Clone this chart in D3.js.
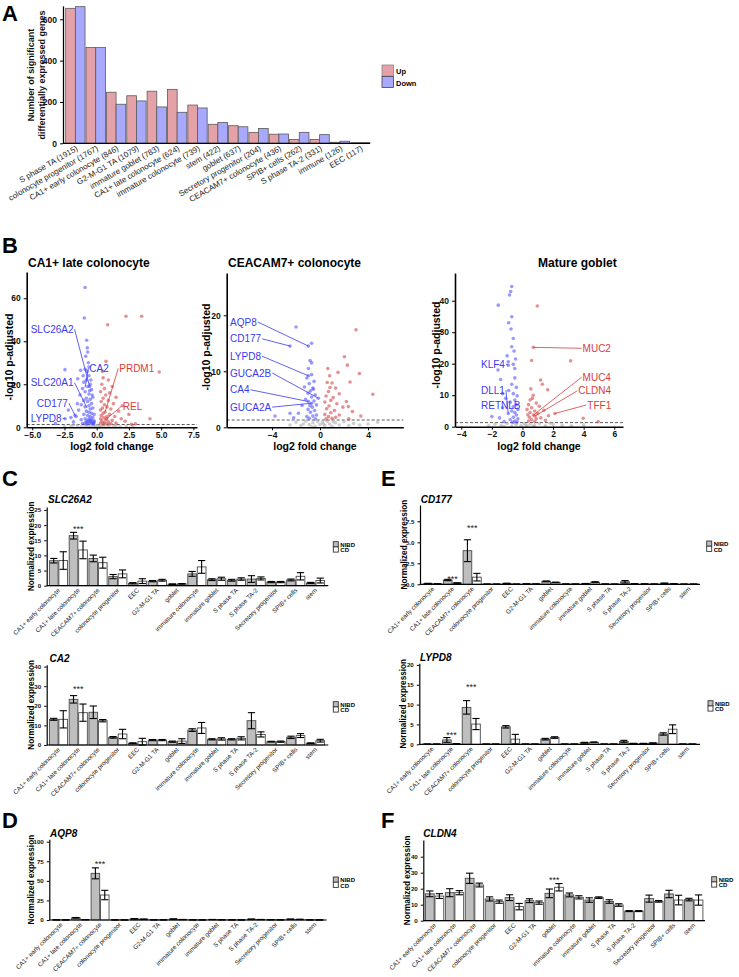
<!DOCTYPE html>
<html><head><meta charset="utf-8">
<script src="https://cdn.jsdelivr.net/npm/d3@7"></script>
<style>
body{margin:0;background:#fff}
svg{display:block}
text{font-family:"Liberation Sans",Arial,Helvetica,sans-serif}
</style>
</head><body>
<svg id="fig" width="739" height="977"></svg>
<script>
// ================= DATA =================
// Panel A
const degCellTypes = ["S phase TA (1915)","colonocyte progenitor (1767)","CA1+ early colonocyte (846)","G2-M-G1 TA (1079)","immature goblet (783)","CA1+ late colonocyte (624)","immature colonocyte (739)","stem (422)","goblet (637)","Secretory progenitor (204)","CEACAM7+ colonocyte (436)","SPIB+ cells (262)","S phase TA-2 (331)","immune (126)","EEC (117)"];
const degUp   = [653,463,247,230,252,261,185,92,85,53,44,19,19,5,3];
const degDown = [661,463,189,205,176,150,171,101,80,72,45,53,42,10,3];
const degYTicks = [0,200,400,600];

// Panel B volcano data: [log2 fold change, -log10 p-adjusted]
const v1Blue = [[-0.9,65],[-0.96,50.8],[-0.78,40.5],[-0.73,37],[-0.7,35],[-0.85,33],[-2.46,26.8],[-1.24,26.5],[-0.9,27],[-0.6,28],[-1.47,22.6],[-0.6,24],[-0.8,22],[-1.0,21],[-0.5,20],[-0.7,19],[-1.1,18],[-0.4,17.5],[-0.9,16.5],[-0.6,15.5],[-1.3,15],[-0.3,14],[-0.8,13.5],[-0.5,13],[-1.0,12.5],[-0.7,12],[-0.4,11],[-1.2,10.5],[-0.6,10],[-0.9,9.5],[-0.3,9],[-0.5,8.5],[-2.2,8],[-1.4,8],[-0.8,7.5],[-0.6,7],[-0.4,6.5],[-1.0,6],[-0.2,6],[-0.7,5.5],[-0.5,5],[-1.6,5],[-0.3,4.5],[-0.9,4],[-0.6,4],[-0.4,3.5],[-1.2,3.5],[-0.2,3],[-0.7,3],[-0.5,2.5],[-1.8,2.5],[-0.3,2.2],[-0.9,2],[-0.6,2],[-0.4,1.8],[-1.1,1.8],[-0.25,1.6],[-0.75,1.6],[-3.2,1.8],[-2.0,4.5],[-1.5,11],[-0.45,22],[-0.35,15],[-0.55,17],[-0.65,30],[-0.75,26],[-1.05,24],[-0.5,3.2],[-0.8,2.8],[-0.2,2.4],[-0.55,19],[-1.68,5.6],[-2.45,4]];
const v1Red = [[2.27,51.6],[3.49,51.6],[0.85,47.7],[0.72,30.7],[4.85,25.7],[0.5,23],[0.9,22],[0.4,20],[1.2,19],[0.6,18],[0.3,16.5],[1.0,16],[0.7,15],[1.5,14],[0.5,13.5],[0.9,12.5],[0.35,12],[1.3,11],[0.6,10.5],[2.0,10],[0.8,9.5],[0.45,9],[1.1,8.5],[0.3,8],[1.7,7.5],[0.65,7.1],[0.5,6.5],[2.5,6],[1.0,6],[0.35,5.5],[0.8,5],[1.4,5],[0.55,4.5],[0.3,4],[1.9,4],[4.13,4],[0.78,4],[0.7,3.5],[1.2,3.2],[0.4,3],[2.2,2.8],[0.9,2.5],[0.6,2.2],[0.3,2],[1.5,2],[3.0,1.6],[0.5,1.7],[0.8,1.5],[2.7,1.4],[1.1,1.8],[0.45,26]];
const v1Grey = [[-2.5,0.3],[-2,0.5],[-1.5,0.8],[-1.2,0.2],[-0.8,1.0],[-0.5,0.4],[-0.3,1.1],[-0.1,0.6],[0.1,0.9],[0.3,0.3],[0.6,1.0],[0.9,0.5],[1.3,0.7],[1.8,0.2],[2.3,0.4],[2.8,0.6],[-1.8,1.1],[-0.6,0.1],[0.2,0.2],[1.0,1.2],[-0.9,0.3],[0.5,0.6],[-0.2,0.2],[1.5,1.0]];
const v1Genes = [
  {gene:"SLC26A2", pt:[-0.55,19], txt:[-5.12,45.6], attach:"end", up:false},
  {gene:"CA2",     pt:[-0.9,18.5], txt:[-0.57,27.4], attach:"start", up:false},
  {gene:"SLC20A1", pt:[-0.75,9],  txt:[-5.12,20.7], attach:"end", up:false},
  {gene:"CD177",   pt:[-1.68,5.6], txt:[-4.65,11.2], attach:"end", up:false},
  {gene:"LYPD8",   pt:[-2.45,4],  txt:[-5.12,4.2], attach:"end", up:false},
  {gene:"PRDM1",   pt:[0.65,7.1], txt:[1.75,27.4], attach:"start", up:true},
  {gene:"REL",     pt:[0.78,4],   txt:[2.02,9.9], attach:"start", up:true}
];

const v2Blue = [[-2,17.9],[-0.7,15],[-2.5,14.5],[-0.97,14.5],[-0.83,11.9],[-0.7,11.5],[-0.97,10.5],[-0.7,9.4],[-0.97,9.2],[-1.1,8.8],[-0.5,8.2],[-0.9,7.8],[-1.3,7.2],[-0.6,7],[-0.8,6.5],[-1.0,6.1],[-0.4,5.8],[-0.7,5.4],[-0.14,5.2],[-1.2,5],[-0.5,4.7],[-0.97,4.6],[-0.7,4.3],[-0.3,4],[-1.5,3.9],[-0.65,3.6],[-1.0,3.2],[-0.45,3],[-0.8,2.7],[-1.8,2.5],[-2.5,2.5],[-3.75,2],[-0.3,2.2],[-0.6,2],[-1.1,1.9],[-0.9,1.6],[-2.2,1.7],[-0.4,1.5],[-0.55,6.8],[-0.85,3.9]];
const v2Red = [[3,17.4],[2.03,12.6],[2.28,11.1],[3.28,9.6],[2.5,8.1],[0.83,7.1],[4.4,5.9],[0.6,8],[1.0,7.9],[1.3,7],[0.7,6.4],[1.6,6],[0.5,5.6],[1.1,5.3],[0.9,4.8],[2.2,4.6],[0.4,4.5],[1.4,4.2],[0.75,3.8],[1.9,3.6],[0.55,3.3],[1.2,3.0],[2.7,2.8],[0.9,2.6],[0.4,2.3],[1.6,2.2],[3.4,2.0],[0.7,1.9],[1.0,1.6],[2.4,1.5],[0.5,1.5],[1.3,1.8],[0.8,9.2],[1.5,9.8],[0.65,10.5],[2.36,3.7]];
const v2Grey = [[-2.5,0.4],[-2,0.9],[-1.6,0.3],[-1.2,1.1],[-0.9,0.5],[-0.6,0.8],[-0.4,0.2],[-0.2,1.0],[0,0.5],[0.2,0.9],[0.4,0.3],[0.6,1.1],[0.8,0.6],[1.0,0.2],[1.3,0.8],[1.6,0.4],[2.0,1.0],[2.4,0.3],[2.8,0.7],[3.3,0.4],[4.0,0.6],[4.8,0.9],[-1.4,0.6],[0.3,0.6],[-0.7,0.1],[1.1,1.0]];
const v2Genes = [
  {gene:"AQP8",   pt:[-0.97,14.5], txt:[-7.5,18.8], attach:"end", up:false},
  {gene:"CD177",  pt:[-2.5,14.5],  txt:[-7.5,15.8], attach:"end", up:false},
  {gene:"LYPD8",  pt:[-0.97,9.2],  txt:[-7.5,12.7], attach:"end", up:false},
  {gene:"GUCA2B", pt:[-0.14,5.2],  txt:[-7.5,9.7], attach:"end", up:false},
  {gene:"CA4",    pt:[-0.97,4.6],  txt:[-7.5,6.7], attach:"end", up:false},
  {gene:"GUCA2A", pt:[-0.7,4.3],   txt:[-7.5,3.6], attach:"end", up:false}
];

const v3Blue = [[-0.77,42.9],[-0.85,41.8],[-0.7,44.5],[-1.58,38.6],[-0.7,34.9],[-0.9,33],[-0.75,31],[-0.6,28],[-0.7,25.4],[-0.55,24],[-0.93,20.6],[-0.93,19.5],[-0.6,19.8],[-0.5,18.5],[-1.43,15],[-0.5,15.5],[-0.7,13.5],[-0.4,12.5],[-0.9,11.5],[-0.6,10.5],[-0.35,9.8],[-1.1,9],[-0.5,8.5],[-0.8,7.8],[-0.4,7],[-0.6,6.3],[-1.3,6],[-0.3,5.5],[-0.7,5],[-0.5,4.5],[-2.0,3.2],[-0.93,4.2],[-0.4,3.7],[-0.6,3],[-1.5,2.8],[-0.3,2.5],[-0.8,2.2],[-0.5,1.8],[-1.2,1.6],[-0.35,1.5],[-0.65,1.4],[-1.6,18],[-1.0,22.5],[-1.3,10.5],[-0.45,21.5]];
const v3Red = [[0.97,38.3],[0.71,25.2],[0.6,21],[3.15,20.9],[1.19,14.8],[1.3,13.5],[1.65,11.7],[0.5,8.5],[0.7,10],[0.4,7],[0.9,7.5],[0.6,6],[1.1,6.5],[0.3,5.5],[0.8,5],[1.4,5.2],[0.5,4.5],[1.0,4.2],[0.35,3.8],[0.71,3.7],[1.7,3.5],[0.45,3],[0.82,3.4],[1.2,2.8],[0.9,2.5],[3.97,2.7],[4.95,1.6],[2.12,4.2],[0.6,2.2],[0.4,1.8],[1.5,2],[0.8,1.6],[0.55,12],[0.65,9]];
const v3Grey = [[-2.2,0.3],[-1.8,0.8],[-1.4,0.4],[-1.0,1.0],[-0.7,0.2],[-0.4,0.7],[-0.1,0.4],[0.1,1.0],[0.3,0.2],[0.5,0.8],[0.8,0.4],[1.1,1.0],[1.5,0.3],[2.0,0.7],[2.6,0.5],[3.2,0.3],[4.0,0.6],[-0.5,1.1],[0.2,0.6],[-1.2,0.1],[0.7,0.1],[1.8,1.1]];
const v3Genes = [
  {gene:"KLF4",   pt:[-0.93,19.5], txt:[-2.71,19.9], attach:"end", up:false},
  {gene:"DLL1",   pt:[-0.93,4.2],  txt:[-2.71,11.6], attach:"end", up:false},
  {gene:"RETNLB", pt:[-0.35,5.0],  txt:[-2.71,6.9], attach:"none", up:false},
  {gene:"MUC2",   pt:[0.71,25.2],  txt:[3.93,24.9], attach:"start", up:true},
  {gene:"MUC4",   pt:[0.71,3.7],   txt:[3.93,15.7], attach:"start", up:true},
  {gene:"CLDN4",  pt:[0.82,3.4],   txt:[3.65,11.4], attach:"start", up:true},
  {gene:"TFF1",   pt:[2.12,4.2],   txt:[4.24,6.9], attach:"start", up:true}
];

// Panels C-F
const exprCellTypes = ["CA1+ early colonocyte","CA1+ late colonocyte","CEACAM7+ colonocyte","colonocyte progenitor","EEC","G2-M-G1 TA","goblet","immature colonocyte","immature goblet","S phase TA","S phase TA-2","Secretory progenitor","SPIB+ cells","stem"];
const groups = ["NIBD","CD"];

const slc26a2NIBD    = [8.25,16.5,9.0,3.0,0.8,1.5,0.5,3.9,2.0,1.8,2.2,1.2,1.9,0.9];
const slc26a2NIBDErr = [0.75,1.1,1.1,0.7,0.2,0.2,0.1,0.8,0.3,0.3,1.1,0.2,0.3,0.2];
const slc26a2CD      = [8.3,11.8,7.6,3.9,1.5,1.8,0.6,6.2,2.3,2.2,2.4,1.2,3.1,1.7];
const slc26a2CDErr   = [2.9,2.9,1.8,1.3,0.8,0.3,0.1,2.1,0.5,0.4,0.5,0.2,1.2,0.8];

const ca2NIBD    = [13.1,23.3,16.7,3.9,0.9,2.5,1.7,7.6,2.9,2.9,12.4,1.7,3.9,0.9];
const ca2NIBDErr = [0.5,1.9,3.2,0.4,0.2,0.3,0.3,0.7,0.3,0.3,4.1,0.2,0.6,0.2];
const ca2CD      = [13.1,16.5,12.4,5.6,1.7,2.5,2.0,8.7,3.1,3.4,5.4,1.7,4.8,2.2];
const ca2CDErr   = [4.4,4.4,0.6,2.4,1.7,0.3,1.2,2.8,0.6,0.8,1.3,0.3,1.0,0.7];

const aqp8NIBD    = [0.2,2.8,59.6,0.1,1.5,0.2,1.2,0.2,0.6,0.2,1.0,0.3,1.0,0.2];
const aqp8NIBDErr = [0.05,0.4,7,0.05,0.2,0.05,0.2,0.05,0.1,0.05,0.2,0.05,0.2,0.05];
const aqp8CD      = [0.1,0.4,31.9,0.1,1.0,0.2,0.6,0.1,0.3,0.1,0.6,0.2,0.8,0.1];
const aqp8CDErr   = [0.05,0.1,6,0.05,0.2,0.05,0.1,0.05,0.1,0.05,0.1,0.05,0.2,0.05];

const cd177NIBD    = [0.1,0.51,4.0,0.02,0.1,0.05,0.35,0.03,0.08,0.03,0.3,0.04,0.12,0.02];
const cd177NIBDErr = [0.02,0.08,1.3,0.01,0.03,0.01,0.05,0.01,0.02,0.01,0.15,0.01,0.03,0.01];
const cd177CD      = [0.05,0.15,0.85,0.02,0.02,0.04,0.22,0.03,0.25,0.02,0.05,0.03,0.05,0.02];
const cd177CDErr   = [0.02,0.03,0.45,0.01,0.01,0.01,0.04,0.01,0.06,0.01,0.02,0.01,0.02,0.01];

const lypd8NIBD    = [0.05,1.1,9.3,0.05,4.4,0.05,1.3,0.05,0.4,0.05,0.7,0.2,2.6,0.05];
const lypd8NIBDErr = [0.02,0.6,1.7,0.02,0.3,0.02,0.2,0.02,0.1,0.02,0.3,0.05,0.3,0.02];
const lypd8CD      = [0.05,0.1,5.1,0.05,1.3,0.05,1.7,0.05,0.5,0.05,0.2,0.3,3.8,0.05];
const lypd8CDErr   = [0.02,0.05,1.4,0.02,1.2,0.02,0.2,0.02,0.1,0.02,0.05,0.05,1.1,0.02];

const cldn4NIBD    = [16.8,17.5,26.5,13.6,14.4,12.5,17.1,16.1,12.9,12.0,6.0,13.8,16.7,13.2];
const cldn4NIBDErr = [1.8,2.5,3.2,1.3,1.8,1.2,2.7,1.2,1.4,1.1,0.3,2.2,2.3,0.8];
const cldn4CD      = [15.4,17.5,22.3,11.9,8.8,11.3,20.9,14.6,14.4,9.8,6.0,12.1,12.9,12.9];
const cldn4CDErr   = [1.5,1.3,1.2,1.0,2.0,1.0,2.3,1.0,0.5,0.8,0.3,0.5,3.0,3.2];

// significance marks: category index and height (data units) of "***"
const slc26a2Sig = [{i:1, v:19.5}];
const ca2Sig     = [{i:1, v:29.4}];
const aqp8Sig    = [{i:2, v:74.5}];
const cd177Sig   = [{i:1, v:0.9},{i:2, v:6.94}];
const lypd8Sig   = [{i:1, v:2.77},{i:2, v:14.9}];
const cldn4Sig   = [{i:6, v:26.5}];

// ================= DRAWING =================
const svg = d3.select("#fig");
const FONT = '"Liberation Sans",Arial,sans-serif';

function panelLetter(t, x, y){
  svg.append("text").attr("x",x).attr("y",y).text(t)
    .attr("font-size",22).attr("font-weight","bold").attr("fill","#000");
}

// ---------- Panel A ----------
(function(){
  const g = svg.append("g");
  const x = d3.scaleBand().domain(degCellTypes).range([65.7,370]).paddingInner(0.05).paddingOuter(0);
  const xs = d3.scaleBand().domain(["up","down"]).range([0,x.bandwidth()]);
  const y = d3.scaleLinear().domain([0,665]).range([143.3,143.3-665*0.2067]);
  const rows = degCellTypes.map((c,i)=>({c, up:degUp[i], down:degDown[i]}));
  const gg = g.selectAll("g.grp").data(rows).join("g").attr("transform",d=>`translate(${x(d.c)},0)`);
  gg.append("rect").attr("x",xs("up")).attr("width",xs.bandwidth()).attr("y",d=>y(d.up)).attr("height",d=>y(0)-y(d.up))
    .attr("fill","#E4A2A8").attr("stroke","#5a5a5a").attr("stroke-width",0.8);
  gg.append("rect").attr("x",xs("down")).attr("width",xs.bandwidth()).attr("y",d=>y(d.down)).attr("height",d=>y(0)-y(d.down))
    .attr("fill","#A8A8FC").attr("stroke","#5a5a5a").attr("stroke-width",0.8);
  // axes
  const ya = g.append("g").attr("transform","translate(63,0)")
    .call(d3.axisLeft(y).tickValues(degYTicks).tickSize(3).tickSizeOuter(0));
  ya.select(".domain").attr("stroke-width",1.3);
  ya.selectAll("text").attr("font-size",8.5).attr("font-weight","bold").attr("font-family",FONT).attr("fill","#111");
  g.append("line").attr("x1",63).attr("x2",370).attr("y1",y(0)).attr("y2",y(0)).attr("stroke","#000").attr("stroke-width",1.3);
  // x labels
  g.selectAll("text.xl").data(degCellTypes).join("text").attr("class","xl")
    .attr("transform",d=>`translate(${x(d)+x.bandwidth()/2+3},150) rotate(-30)`)
    .attr("text-anchor","end").attr("font-size",8).attr("fill","#222").text(d=>d);
  // y label
  const yl = g.append("text").attr("transform","translate(34,75) rotate(-90)").attr("text-anchor","middle")
    .attr("font-size",9).attr("font-weight","bold").attr("fill","#111");
  yl.append("tspan").attr("x",0).attr("dy",0).text("Number of significant");
  yl.append("tspan").attr("x",0).attr("dy",10.6).text("differentially expressed genes");
  // legend
  const lg = g.append("g").attr("transform","translate(382,65)");
  lg.append("rect").attr("width",11.5).attr("height",11).attr("fill","#E4A2A8").attr("stroke","#888").attr("stroke-width",0.8);
  lg.append("rect").attr("y",11.5).attr("width",11.5).attr("height",11).attr("fill","#A8A8FC").attr("stroke","#444").attr("stroke-width",0.8);
  lg.append("text").attr("x",14).attr("y",9).text("Up").attr("font-size",7.5).attr("font-weight","bold");
  lg.append("text").attr("x",14).attr("y",20.5).text("Down").attr("font-size",7.5).attr("font-weight","bold");
})();
panelLetter("A",2,21);

// ---------- Panel B ----------
function volcano(o){
  const g = svg.append("g");
  const x = d3.scaleLinear().domain(o.xDom).range([o.axL,o.axR]);
  const y = d3.scaleLinear().domain(o.yDom).range([o.y0,o.yTop]);
  // threshold line
  g.append("line").attr("x1",o.axL).attr("x2",o.axR).attr("y1",y(1.3)).attr("y2",y(1.3))
    .attr("stroke","#333").attr("stroke-width",0.8).attr("stroke-dasharray","3,2");
  g.selectAll("circle.gr").data(o.grey).join("circle").attr("cx",d=>x(d[0])).attr("cy",d=>y(d[1])).attr("r",1.8).attr("fill","rgba(175,175,175,0.6)");
  g.selectAll("circle.bl").data(o.blue).join("circle").attr("cx",d=>x(d[0])).attr("cy",d=>y(d[1])).attr("r",1.8).attr("fill","rgba(70,70,255,0.55)");
  g.selectAll("circle.rd").data(o.red).join("circle").attr("cx",d=>x(d[0])).attr("cy",d=>y(d[1])).attr("r",1.8).attr("fill","rgba(210,55,55,0.55)");
  // axes
  const xa = g.append("g").attr("transform",`translate(0,${o.y0})`)
    .call(d3.axisBottom(x).tickValues(o.xTicks).tickFormat(o.xFmt).tickSize(3).tickPadding(1.5).tickSizeOuter(0));
  const ya = g.append("g").attr("transform",`translate(${o.axL},0)`)
    .call(d3.axisLeft(y).tickValues(o.yTicks).tickSize(3).tickSizeOuter(0));
  [xa,ya].forEach(a=>{
    a.select(".domain").attr("stroke-width",1.6);
    a.selectAll(".tick line").attr("stroke-width",1);
    a.selectAll("text").attr("font-size",8.5).attr("font-weight","bold").attr("font-family",FONT).attr("fill","#111");
  });
  g.append("text").attr("x",(o.axL+o.axR)/2).attr("y",o.y0+23).attr("text-anchor","middle")
    .attr("font-size",10.5).attr("font-weight","bold").text("log2 fold change");
  g.append("text").attr("transform",`translate(${o.ylabX},${o.ylabY}) rotate(-90)`).attr("text-anchor","middle")
    .attr("font-size",10.5).attr("font-weight","bold").text("-log10 p-adjusted");
  g.append("text").attr("x",o.titleX).attr("y",267).attr("font-size",12).attr("font-weight","bold").text(o.title);
  // gene labels
  o.genes.forEach(d=>{
    const col = d.up ? "#D93B3B" : "#3939F2";
    const tx = x(d.txt[0]), ty = y(d.txt[1]);
    const t = g.append("text").attr("x",tx).attr("y",ty+3.6).attr("font-size",10).attr("fill",col).text(d.gene);
    const len = t.node().getComputedTextLength();
    if(d.attach!=="none"){
      const sx = d.attach==="end" ? tx+len+1 : tx-1;
      g.append("line").attr("x1",sx).attr("y1",ty).attr("x2",x(d.pt[0])).attr("y2",y(d.pt[1]))
        .attr("stroke",col).attr("stroke-width",0.8);
    }
  });
}
volcano({xDom:[-5.43,7.78], axL:26.7, axR:197, yDom:[0,72.2], y0:427.3, yTop:272, xTicks:[-5,-2.5,0,2.5,5,7.5], xFmt:d3.format(".1f"),
  yTicks:[0,20,40,60], blue:v1Blue, red:v1Red, grey:v1Grey, genes:v1Genes, title:"CA1+ late colonocyte", titleX:28, ylabX:13, ylabY:357});
volcano({xDom:[-7.78,6.94], axL:226.7, axR:403.3, yDom:[0,27.55], y0:427.3, yTop:273, xTicks:[-4,0,4], xFmt:d3.format("d"),
  yTicks:[0,10,20], blue:v2Blue, red:v2Red, grey:v2Grey, genes:v2Genes, title:"CEACAM7+ colonocyte", titleX:228, ylabX:210, ylabY:347});
volcano({xDom:[-4.41,6.57], axL:455, axR:623, yDom:[0,48.8], y0:426.7, yTop:273, xTicks:[-4,-2,0,2,4,6], xFmt:d3.format("d"),
  yTicks:[0,10,20,30,40], blue:v3Blue, red:v3Red, grey:v3Grey, genes:v3Genes, title:"Mature goblet", titleX:538, ylabX:440, ylabY:345});
panelLetter("B",2,253);

// ---------- Bar panels C-F ----------
function barPanel(o){
  const g = svg.append("g");
  const x = d3.scaleBand().domain(exprCellTypes).range([o.bandL,o.bandR]).paddingInner(0.04).paddingOuter(0);
  const xs = d3.scaleBand().domain(groups).range([0,x.bandwidth()]);
  const y = d3.scaleLinear().domain([0,o.yMax]).range([o.y0,o.y0-o.yMax*o.ppu]);
  const rows = exprCellTypes.map((c,i)=>[
    {c, grp:"NIBD", v:o.nibd[i], e:o.nibdErr[i]},
    {c, grp:"CD", v:o.cd[i], e:o.cdErr[i]}]).flat();
  const bw = xs.bandwidth();
  const bars = g.selectAll("g.b").data(rows).join("g").attr("transform",d=>`translate(${x(d.c)+xs(d.grp)},0)`);
  bars.append("rect").attr("x",0.4).attr("width",bw-0.8).attr("y",d=>y(d.v)).attr("height",d=>y(0)-y(d.v))
    .attr("fill",d=>d.grp==="NIBD"?"#BEBEBE":"#fff").attr("stroke","#4a4a4a").attr("stroke-width",0.9);
  bars.append("line").attr("x1",bw/2).attr("x2",bw/2).attr("y1",d=>y(Math.max(0,d.v-d.e))).attr("y2",d=>y(d.v+d.e))
    .attr("stroke","#000").attr("stroke-width",1.1);
  bars.append("line").attr("x1",bw*0.12).attr("x2",bw*0.88).attr("y1",d=>y(d.v+d.e)).attr("y2",d=>y(d.v+d.e))
    .attr("stroke","#000").attr("stroke-width",1.1);
  bars.append("line").attr("x1",bw*0.12).attr("x2",bw*0.88).attr("y1",d=>y(Math.max(0,d.v-d.e))).attr("y2",d=>y(Math.max(0,d.v-d.e)))
    .attr("stroke","#000").attr("stroke-width",1.1);
  // axes
  const ya = g.append("g").attr("transform",`translate(${o.axL},0)`)
    .call(d3.axisLeft(y).tickValues(o.ticks).tickFormat(o.fmt).tickSize(2.5).tickSizeOuter(0));
  ya.select(".domain").attr("stroke-width",1.2);
  ya.selectAll("text").attr("font-size",6.2).attr("font-weight","bold").attr("font-family",FONT).attr("fill","#111");
  g.append("line").attr("x1",o.axL).attr("x2",o.axR).attr("y1",y(0)).attr("y2",y(0)).attr("stroke","#000").attr("stroke-width",1.2);
  g.selectAll("text.xl").data(exprCellTypes).join("text").attr("class","xl")
    .attr("transform",d=>`translate(${x(d)+x.bandwidth()/2+2},${o.y0+5}) rotate(-45)`)
    .attr("text-anchor","end").attr("font-size",6.3).attr("fill","#222").text(d=>d);
  // stars
  g.selectAll("text.sig").data(o.sig).join("text").attr("class","sig")
    .attr("x",d=>x(exprCellTypes[d.i])+x.bandwidth()/2).attr("y",d=>y(d.v)+5)
    .attr("text-anchor","middle").attr("font-size",9).attr("fill","#222").text("***");
  // labels
  g.append("text").attr("x",o.titleX).attr("y",o.titleY).attr("font-size",10).attr("font-weight","bold").attr("font-style","italic").text(o.title);
  g.append("text").attr("transform",`translate(${o.ylabX},${(o.y0+o.y0-o.yMax*o.ppu)/2}) rotate(-90)`)
    .attr("text-anchor","middle").attr("font-size",8.2).attr("font-weight","bold").text("Normalized expression");
  // legend
  const lg = g.append("g").attr("transform",`translate(${o.legX},${o.legY})`);
  lg.append("rect").attr("width",5).attr("height",5.2).attr("fill","#BEBEBE").attr("stroke","#333").attr("stroke-width",0.9);
  lg.append("rect").attr("y",5.2).attr("width",5).attr("height",5.2).attr("fill","#fff").attr("stroke","#333").attr("stroke-width",0.9);
  lg.append("text").attr("x",7).attr("y",5.3).attr("font-size",6).attr("font-weight","bold").text("NIBD");
  lg.append("text").attr("x",7).attr("y",10.6).attr("font-size",6).attr("font-weight","bold").text("CD");
}
const fmtD = d3.format("d"), fmt1 = d3.format(".1f");
barPanel({axL:46.7, axR:328.3, bandL:49, bandR:325, y0:585.7, ppu:3.03, yMax:26, ticks:[0,5,10,15,20,25], fmt:fmtD,
  nibd:slc26a2NIBD, nibdErr:slc26a2NIBDErr, cd:slc26a2CD, cdErr:slc26a2CDErr, sig:slc26a2Sig,
  title:"SLC26A2", titleX:48, titleY:503, ylabX:34, legX:333.3, legY:541.7});
barPanel({axL:46.7, axR:328.3, bandL:49, bandR:325, y0:745, ppu:1.96, yMax:41, ticks:[0,10,20,30,40], fmt:fmtD,
  nibd:ca2NIBD, nibdErr:ca2NIBDErr, cd:ca2CD, cdErr:ca2CDErr, sig:ca2Sig,
  title:"CA2", titleX:49.5, titleY:661.5, ylabX:34, legX:333.3, legY:701.7});
barPanel({axL:49.3, axR:326.7, bandL:51.7, bandR:324, y0:920, ppu:0.783, yMax:103, ticks:[0,25,50,75,100], fmt:fmtD,
  nibd:aqp8NIBD, nibdErr:aqp8NIBDErr, cd:aqp8CD, cdErr:aqp8CDErr, sig:aqp8Sig,
  title:"AQP8", titleX:50, titleY:837, ylabX:34, legX:333.3, legY:877});
barPanel({axL:420, axR:700, bandL:423.3, bandR:698.3, y0:584.3, ppu:8.4, yMax:9.44, ticks:[0,2.5,5,7.5], fmt:fmt1,
  nibd:cd177NIBD, nibdErr:cd177NIBDErr, cd:cd177CD, cdErr:cd177CDErr, sig:cd177Sig,
  title:"CD177", titleX:420.7, titleY:502.5, ylabX:407, legX:706.7, legY:541});
barPanel({axL:419.3, axR:700, bandL:422.5, bandR:697, y0:744.3, ppu:3.97, yMax:20.4, ticks:[0,5,10,15,20], fmt:fmtD,
  nibd:lypd8NIBD, nibdErr:lypd8NIBDErr, cd:lypd8CD, cdErr:lypd8CDErr, sig:lypd8Sig,
  title:"LYPD8", titleX:420, titleY:660.5, ylabX:406, legX:708, legY:700.7});
barPanel({axL:423.3, axR:705, bandL:425, bandR:703.3, y0:920.7, ppu:1.6, yMax:50.4, ticks:[0,10,20,30,40], fmt:fmtD,
  nibd:cldn4NIBD, nibdErr:cldn4NIBDErr, cd:cldn4CD, cdErr:cldn4CDErr, sig:cldn4Sig,
  title:"CLDN4", titleX:423.3, titleY:837, ylabX:410, legX:711.7, legY:876.7});
panelLetter("C",2,486);
panelLetter("D",2,828);
panelLetter("E",381,486);
panelLetter("F",381,828);
</script>
</body></html>
